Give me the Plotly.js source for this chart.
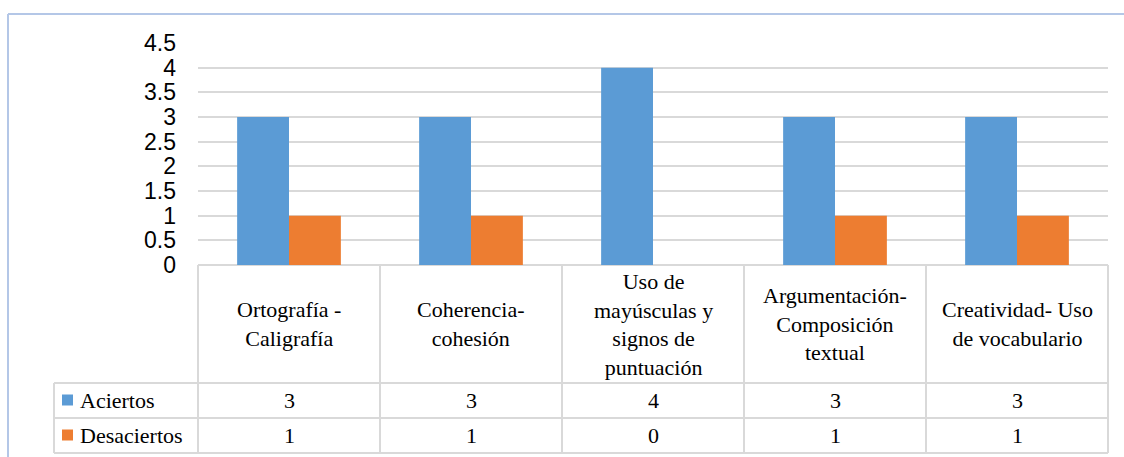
<!DOCTYPE html>
<html>
<head>
<meta charset="utf-8">
<script src="https://cdn.plot.ly/plotly-3.0.1.min.js"></script>
<style>html,body{margin:0;padding:0;background:#fff;}#chart{width:1124px;height:457px;}</style>
</head>
<body>
<div id="chart"></div>
<script>
// ---- data ----
const categories = [
  "Ortografía -<br>Caligrafía",
  "Coherencia-<br>cohesión",
  "Uso de<br>mayúsculas y<br>signos de<br>puntuación",
  "Argumentación-<br>Composición<br>textual",
  "Creatividad- Uso<br>de vocabulario"
];
const seriesNames = ["Aciertos", "Desaciertos"];
const aciertos = [3, 3, 4, 3, 3];
const desaciertos = [1, 1, 0, 1, 1];
const yTicks = [0, 0.5, 1, 1.5, 2, 2.5, 3, 3.5, 4, 4.5];
const colors = ["#5b9bd5", "#ed7d31"];

// ---- layout helpers (pixel -> paper) ----
const W = 1124, H = 457;
const plotL = 198, plotR = 1108, plotT = 43, plotB = 265;
const px = X => (X - plotL) / (plotR - plotL);
const py = Y => (plotB - Y) / (plotB - plotT);
const gridCol = "#d9d9d9";

const traces = [
  {type: "bar", name: seriesNames[0], x: categories, y: aciertos,
   marker: {color: colors[0]}, hoverinfo: "x+y"},
  {type: "bar", name: seriesNames[1], x: categories, y: desaciertos,
   marker: {color: colors[1]}, hoverinfo: "x+y"}
];

const shapes = [];
const annotations = [];
const rowY = [383, 418, 453];
const tableLeft = 54;

// horizontal table lines
rowY.forEach((Y) => {
  shapes.push({type: "line", xref: "paper", yref: "paper",
    x0: px(tableLeft), x1: 1, y0: py(Y), y1: py(Y),
    line: {color: gridCol, width: 2}});
});
// vertical table lines at category boundaries
for (let i = 0; i <= categories.length; i++) {
  shapes.push({type: "line", xref: "paper", yref: "paper",
    x0: i / categories.length, x1: i / categories.length, y0: 0, y1: py(rowY[2]),
    line: {color: gridCol, width: 2}});
}
// left edge of legend column
shapes.push({type: "line", xref: "paper", yref: "paper",
  x0: px(tableLeft), x1: px(tableLeft), y0: py(rowY[0]), y1: py(rowY[2]),
  line: {color: gridCol, width: 2}});

// legend squares + series labels + values
const serieVals = [aciertos, desaciertos];
const serif = "Liberation Serif";
const tsize = 22;
seriesNames.forEach((nm, s) => {
  const top = rowY[s], bot = rowY[s + 1];
  const mid = (top + bot) / 2;
  shapes.push({type: "rect", xref: "paper", yref: "paper",
    x0: px(62), x1: px(73), y0: py(mid - 6), y1: py(mid + 5),
    fillcolor: colors[s], line: {width: 0}});
  annotations.push({xref: "paper", yref: "paper", x: px(78), y: py(mid),
    xanchor: "left", yanchor: "middle", text: nm, showarrow: false,
    font: {family: serif, size: tsize, color: "#000"}});
  categories.forEach((c, i) => {
    annotations.push({xref: "x", yref: "paper", x: c, y: py(mid),
      xanchor: "center", yanchor: "middle", text: String(serieVals[s][i]),
      showarrow: false, font: {family: serif, size: tsize, color: "#000"}});
  });
});
// header labels
categories.forEach(c => {
  annotations.push({xref: "x", yref: "paper", x: c, y: py((plotB + rowY[0]) / 2),
    xanchor: "center", yanchor: "middle", text: c, showarrow: false,
    font: {family: serif, size: tsize, color: "#000"}});
});

// outer chart border (left + top)
shapes.push({type: "line", xref: "paper", yref: "paper",
  x0: px(8), x1: px(8), y0: py(14), y1: py(470), line: {color: "#b4c7e7", width: 2}});
shapes.push({type: "line", xref: "paper", yref: "paper",
  x0: px(8), x1: px(1130), y0: py(14), y1: py(14), line: {color: "#b4c7e7", width: 2}});

const layout = {
  width: W, height: H,
  margin: {l: plotL, r: W - plotR, t: plotT, b: H - plotB, pad: 0},
  paper_bgcolor: "#fff", plot_bgcolor: "#fff",
  showlegend: false,
  barmode: "group", bargap: 0.43, bargroupgap: 0,
  xaxis: {showticklabels: false, showgrid: false, zeroline: false, showline: false,
          ticks: "", fixedrange: true},
  yaxis: {range: [0, 4.5], tickvals: yTicks, ticktext: yTicks.map(String),
          showgrid: true, gridcolor: gridCol, gridwidth: 2,
          zeroline: true, zerolinecolor: gridCol, zerolinewidth: 2,
          showline: false, ticks: "", ticklabelstandoff: 21,
          tickfont: {family: "Liberation Sans", size: 23, color: "#000"},
          fixedrange: true},
  shapes: shapes,
  annotations: annotations
};

Plotly.newPlot("chart", traces, layout, {displayModeBar: false, staticPlot: true});
</script>
</body>
</html>
